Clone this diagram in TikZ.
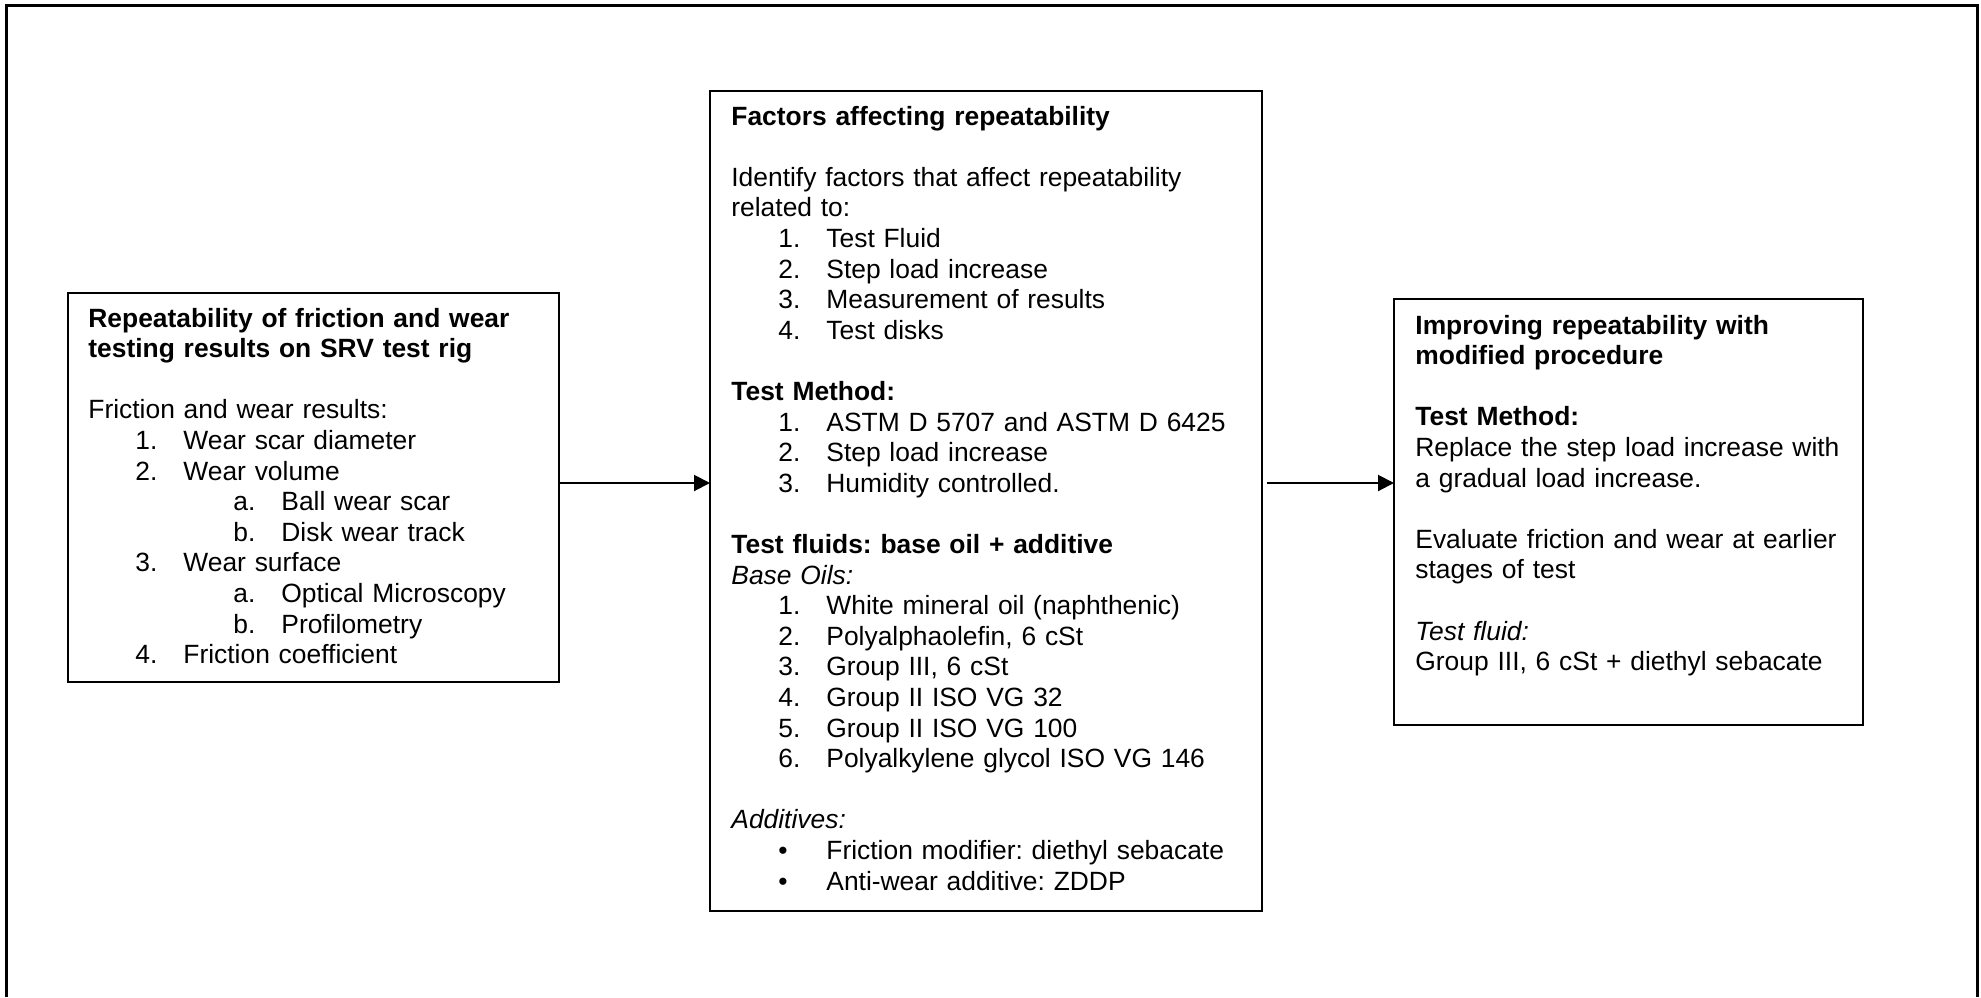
\documentclass[tikz,border=0pt]{standalone}
\usepackage{fontspec}
\setmainfont{Liberation Sans}
\usepackage{tikz}
\usetikzlibrary{arrows.meta, positioning}
\frenchspacing

% numbered and lettered list rows
\newcommand{\numrow}[2]{\hspace*{23.5pt}\makebox[24pt][l]{#1}#2}
\newcommand{\subrow}[2]{\hspace*{72.5pt}\makebox[24pt][l]{#1}#2}

\begin{document}
\begin{tikzpicture}[x=0.5pt, y=-0.5pt,
  box/.style={draw, line width=0.7pt, inner sep=0pt, outer sep=0pt, anchor=north west},
  boxtext/.style={anchor=base west, align=left, text width=300pt, inner sep=0pt,
                  font=\fontsize{13.2}{15.3}\selectfont},
  arr/.style={-{Triangle[length=8pt, width=8pt]}, line width=1pt}
]
  \useasboundingbox (0,0) rectangle (1981,997);
  % outer frame, open at the bottom
  \draw[line width=1.5pt] (6,997) -- (6,5) -- (1977,5) -- (1977,997);

  \node[box, minimum width=245.5pt, minimum height=194.5pt] (wear) at (68,293) {};
  \node[box, minimum width=276pt, minimum height=410pt] (factors) at (710,91) {};
  \node[box, minimum width=234.5pt, minimum height=213pt] (improve) at (1394,299) {};

  \node[boxtext] (weartxt) at ([shift={(10pt,-17pt)}]wear.north west) {%
    \textbf{Repeatability of friction and wear}\\
    \textbf{testing results on SRV test rig}\\[15.3pt]
    Friction and wear results:\\
    \numrow{1.}{Wear scar diameter}\\
    \numrow{2.}{Wear volume}\\
    \subrow{a.}{Ball wear scar}\\
    \subrow{b.}{Disk wear track}\\
    \numrow{3.}{Wear surface}\\
    \subrow{a.}{Optical Microscopy}\\
    \subrow{b.}{Profilometry}\\
    \numrow{4.}{Friction coefficient}};

  \node[boxtext] (factorstxt) at ([shift={(10.5pt,-17pt)}]factors.north west) {%
    \textbf{Factors affecting repeatability}\\[15.3pt]
    Identify factors that affect repeatability\\
    related to:\\
    \numrow{1.}{Test Fluid}\\
    \numrow{2.}{Step load increase}\\
    \numrow{3.}{Measurement of results}\\
    \numrow{4.}{Test disks}\\[15.3pt]
    \textbf{Test Method:}\\
    \numrow{1.}{ASTM D 5707 and ASTM D 6425}\\
    \numrow{2.}{Step load increase}\\
    \numrow{3.}{Humidity controlled.}\\[15.3pt]
    \textbf{Test fluids: base oil + additive}\\
    \textit{Base Oils:}\\
    \numrow{1.}{White mineral oil (naphthenic)}\\
    \numrow{2.}{Polyalphaolefin, 6 cSt}\\
    \numrow{3.}{Group III, 6 cSt}\\
    \numrow{4.}{Group II ISO VG 32}\\
    \numrow{5.}{Group II ISO VG 100}\\
    \numrow{6.}{Polyalkylene glycol ISO VG 146}\\[15.3pt]
    \textit{Additives:}\\
    \numrow{\textbullet}{Friction modifier: diethyl sebacate}\\
    \numrow{\textbullet}{Anti-wear additive: ZDDP}};

  \node[boxtext] (improvetxt) at ([shift={(10.5pt,-17.5pt)}]improve.north west) {%
    \textbf{Improving repeatability with}\\
    \textbf{modified procedure}\\[15.3pt]
    \textbf{Test Method:}\\
    Replace the step load increase with\\
    a gradual load increase.\\[15.3pt]
    Evaluate friction and wear at earlier\\
    stages of test\\[15.3pt]
    \textit{Test fluid:}\\
    Group III, 6 cSt + diethyl sebacate};

  % connectors
  \coordinate (arrowrow) at ([yshift=2.25pt]wear.east);
  \draw[arr] (arrowrow) -- (arrowrow -| factors.west);
  \path (arrowrow -| factors.east) ++(5,0) coordinate (arrowstart);
  \draw[arr] (arrowstart) -- (arrowstart -| improve.west);
\end{tikzpicture}
\end{document}
